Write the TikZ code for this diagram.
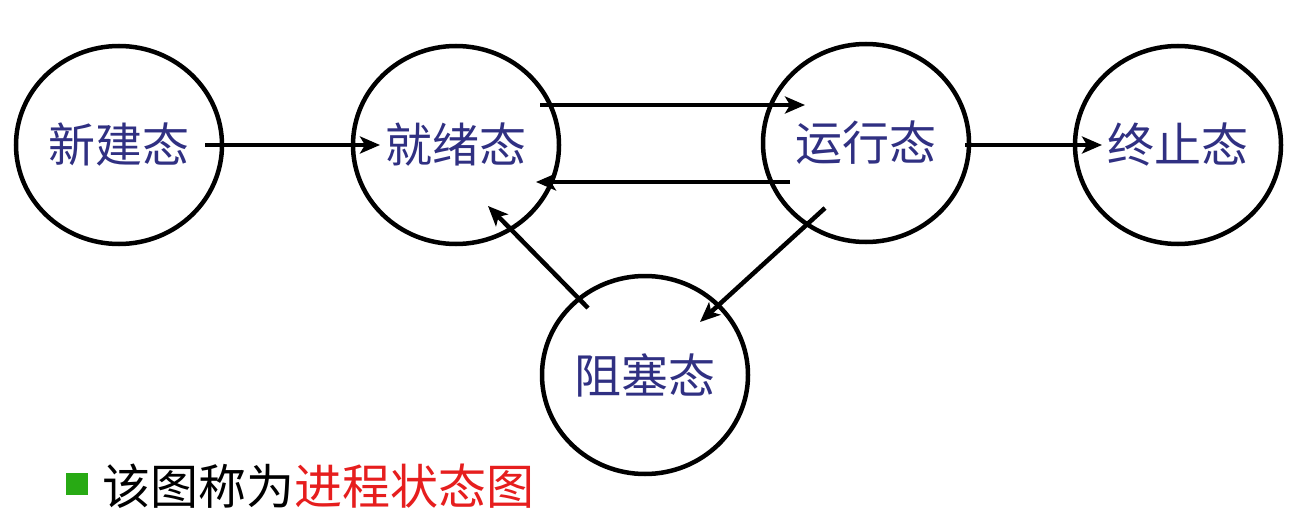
\documentclass[tikz,border=0pt]{standalone}
\usepackage{fontspec}
\newfontfamily\cjk{Noto Sans CJK SC}
\usetikzlibrary{arrows.meta}
\definecolor{statecol}{RGB}{48,48,130}
\definecolor{redtxt}{RGB}{230,30,30}
\definecolor{bulletgreen}{RGB}{40,170,20}
\tikzset{
  state/.style={ellipse, draw=black, line width=4.5pt, minimum width=206pt, minimum height=198pt,
    font=\cjk\fontsize{47}{50}\selectfont, text=statecol, inner sep=0pt},
  conn/.style={line width=4.5pt, -{Stealth[length=20pt,width=17pt,inset=5pt]}},
}
\usetikzlibrary{shapes.geometric}
\begin{document}
\begin{tikzpicture}[x=1pt,y=-1pt]
\useasboundingbox (0,0) rectangle (1298,516);
\node[state] (new) at (119,145) {新建态};
\node[state] (ready) at (456,145) {就绪态};
\node[state] (run) at (866,143) {运行态};
\node[state] (term) at (1178,145) {终止态};
\node[state] (block) at (645,375) {阻塞态};
\coordinate (a1) at (205,145);
\coordinate (a2) at (380,145);
\coordinate (b1) at (540,105);
\coordinate (b2) at (805,105);
\coordinate (c1) at (790,182);
\coordinate (c2) at (536,182);
\coordinate (d1) at (965,145);
\coordinate (d2) at (1102,145);
\coordinate (e1) at (825,208);
\coordinate (e2) at (700,322);
\coordinate (f1) at (588,308);
\coordinate (f2) at (488,206);
\draw[conn] (a1) -- (a2);
\draw[conn] (b1) -- (b2);
\draw[conn] (c1) -- (c2);
\draw[conn] (d1) -- (d2);
\draw[conn] (e1) -- (e2);
\draw[conn] (f1) -- (f2);
\node[fill=bulletgreen, minimum size=22pt, inner sep=0pt] (bullet) at (77,484) {};
\node[anchor=west, font=\cjk\fontsize{48}{52}\selectfont, inner sep=0pt] (caption) at (102,486) {该图称为\textcolor{redtxt}{进程状态图}};
\end{tikzpicture}
\end{document}
